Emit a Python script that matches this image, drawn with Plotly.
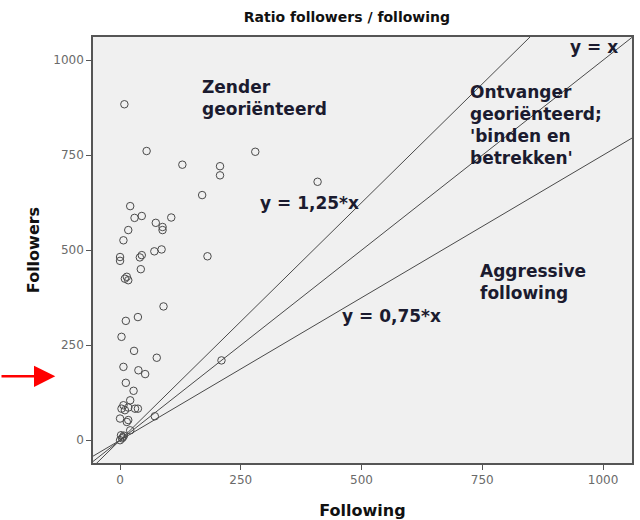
import plotly.graph_objects as go

# Scatter values
following = [9, 55, 129, 207, 207, 280, 409, 170, 21, 45, 30, 74, 88, 88, 106, 17, 7, 0, 0,
             41, 45, 71, 86, 181, 43, 10, 17, 14, 90, 12, 37, 3, 29, 76, 7, 38, 52, 12, 28,
             21, 3, 7, 10, 17, 31, 37, 0, 17, 72, 14, 21, 210, 2, 6, 0, 4, 8]
followers = [884, 761, 725, 721, 697, 759, 680, 645, 616, 590, 585, 572, 553, 561, 586, 553,
             526, 482, 472, 481, 487, 497, 502, 484, 450, 425, 421, 430, 352, 314, 324, 272,
             235, 217, 193, 184, 174, 151, 130, 105, 83, 92, 79, 86, 83, 83, 57, 53, 63, 48,
             26, 210, 13, 8, 0, 5, 12]

# Reference lines y = slope * x
slopes = [1.25, 1.0, 0.75]
line_x = [-100, 1200]

tick_vals = [0, 250, 500, 750, 1000]

text_color = "#1b1b2f"
wide_font = "DejaVu Sans"

fig = go.Figure()

for s in slopes:
    fig.add_trace(go.Scatter(x=line_x, y=[s * v for v in line_x], mode="lines",
                             line=dict(color="#4a4a4a", width=1), hoverinfo="skip",
                             showlegend=False))

fig.add_trace(go.Scatter(x=following, y=followers, mode="markers",
                         marker=dict(symbol="circle-open", size=7.5,
                                     color="#4a4a4a", line=dict(width=1)),
                         showlegend=False))

# Region labels
labels = [
    (166, 900, "Zender<br>georiënteerd"),
    (286, 624, "y = 1,25*x"),
    (720, 829, "Ontvanger<br>georiënteerd;<br>'binden en<br>betrekken'"),
    (928, 1034, "y = x"),
    (741, 416, "Aggressive<br>following"),
    (455, 326, "y = 0,75*x"),
]
for lx, ly, txt in labels:
    fig.add_annotation(x=lx, y=ly, text="<b>" + txt.replace("<br>", "</b><br><b>") + "</b>",
                       showarrow=False, xanchor="left", yanchor="middle", align="left",
                       font=dict(family=wide_font, size=17, color=text_color))

# Red arrow outside the plot
fig.add_annotation(x=-0.07, xref="paper", y=168, yref="y", text="", showarrow=True,
                   ax=-57, ay=0, arrowhead=2, arrowsize=1.7, arrowwidth=2.5,
                   arrowcolor="#ff0000")

fig.update_layout(
    width=640, height=520,
    paper_bgcolor="white", plot_bgcolor="#f0f0f0",
    margin=dict(l=93, r=8, t=37, b=57),
    title=dict(text="<b>Ratio followers / following</b>", x=0.542, xanchor="center",
               y=0.967, yanchor="middle",
               font=dict(family=wide_font, size=14, color="#111111")),
    font=dict(family=wide_font),
)
axis_style = dict(tickvals=tick_vals, showgrid=False, zeroline=False, automargin=False,
                  showline=True, linecolor="#555555", linewidth=1.5, mirror=True,
                  ticks="outside", ticklen=5, tickcolor="#555555",
                  tickfont=dict(family=wide_font, size=12, color="#6a6a6a"))
fig.update_xaxes(range=[-56, 1060], **axis_style,
                 title=dict(text="<b>Following</b>", standoff=21,
                            font=dict(size=16, color="#111111")))
fig.update_yaxes(range=[-60, 1061], **axis_style,
                 title=dict(text="<b>Followers</b>", standoff=10,
                            font=dict(size=16, color="#111111")))

fig.write_html("out.html", config={"displayModeBar": False},
               post_script="document.body.style.margin='0';")
